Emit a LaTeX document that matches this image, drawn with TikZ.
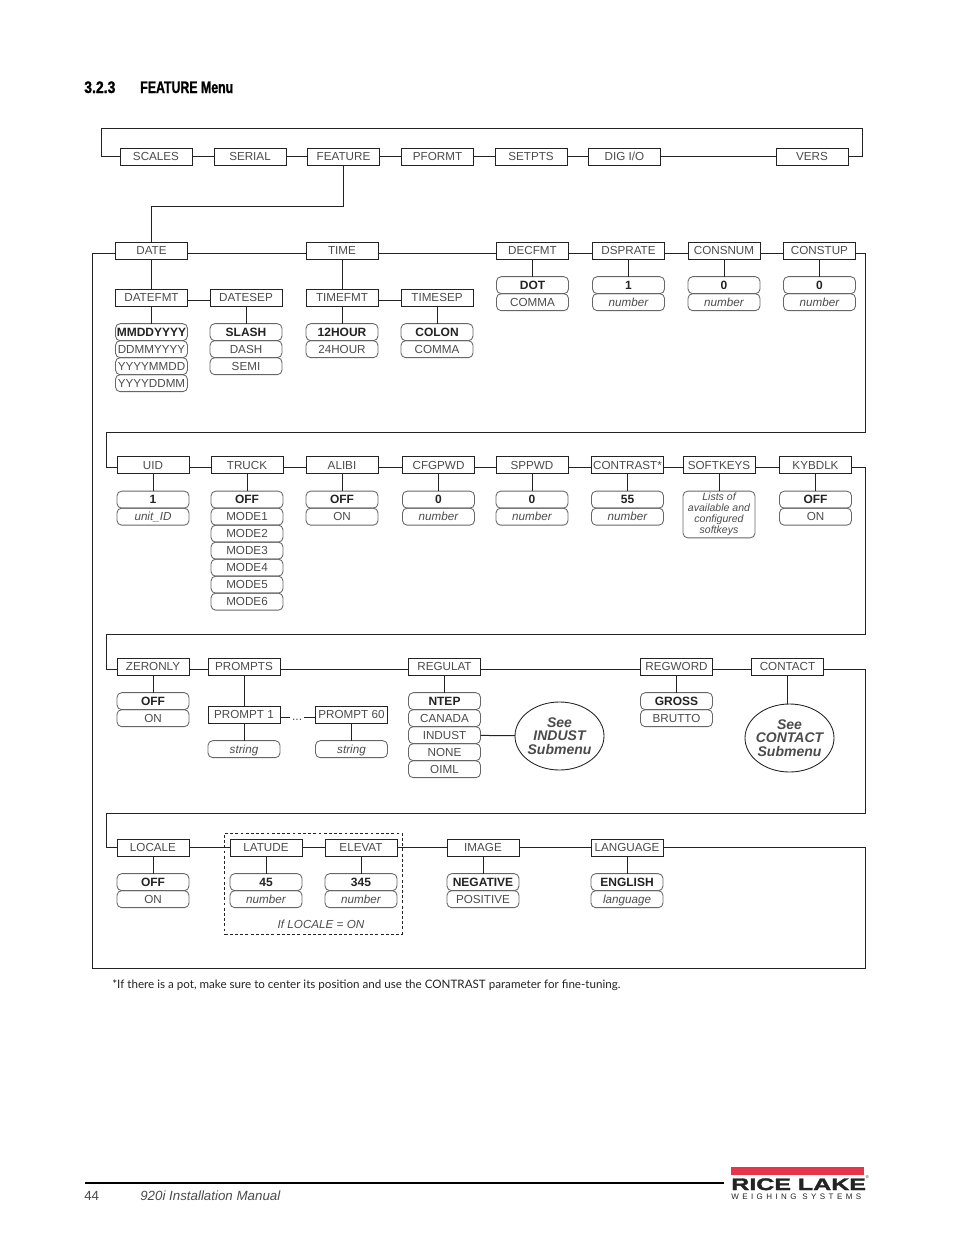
\documentclass[tikz,border=0pt]{standalone}
\usepackage{fontspec}
\setmainfont{Liberation Sans}
\newfontfamily\notefont{Lato}
\newfontfamily\headfont[FakeStretch=0.74,BoldFeatures={FakeBold=1.2}]{Liberation Sans}
\newfontfamily\headnumfont[FakeStretch=0.84,BoldFeatures={FakeBold=1.2}]{Liberation Sans}
\newfontfamily\logofont[FakeStretch=1.5,BoldFeatures={FakeBold=2}]{Liberation Sans}
\newfontfamily\logosubfont[LetterSpace=43]{Liberation Sans}
\definecolor{lakered}{RGB}{230, 52, 74}
\definecolor{ink}{RGB}{35, 35, 35}
\definecolor{label}{RGB}{75, 75, 75}
\usetikzlibrary{positioning}
\usetikzlibrary{shapes.geometric}
\tikzset{
  menubox/.style={
    draw=ink, line width=0.65pt, outer sep=0, inner sep=0,
    minimum width=54pt, minimum height=12.75pt,
    text height=6.4pt, text depth=0pt,
    font=\fontsize{8.75}{9}\selectfont, text=label
  },
  optbox/.style={menubox, draw=black!60, rounded corners=3.5pt},
  defbox/.style={optbox, font=\fontsize{9}{9}\selectfont\bfseries, text=ink},
  varbox/.style={optbox, font=\fontsize{8.75}{9}\selectfont\itshape},
  noteopt/.style={optbox, minimum height=35pt, text height=, text depth=, align=center,
    font=\fontsize{7.9}{8.25}\selectfont\itshape},
  submenu/.style={
    ellipse, draw=ink, line width=0.65pt, outer sep=0, inner sep=-6pt,
    minimum width=66.75pt, minimum height=51pt, align=center, text=label,
    font=\fontsize{10.5}{10.1}\selectfont\bfseries\itshape
  },
  link/.style={draw=ink, line width=0.75pt},
  rowdrop/.style={yshift=-2.6pt},
  rowdroptwo/.style={yshift=-1.5pt}
}

\begin{document}
\begin{tikzpicture}[x=0.75pt, y=-0.75pt, node distance=13.25pt]
  \useasboundingbox (0,0) rectangle (954,1235);

  \node (secnum) [anchor=base west, inner sep=0, font=\headnumfont\fontsize{12.5}{12.5}\selectfont\bfseries] at (84,93) {3.2.3};
  \node (sectitle) [anchor=base west, inner sep=0, font=\headfont\fontsize{12.5}{12.5}\selectfont\bfseries] at (140,93) {FEATURE Menu};

  % top row
  \node [menubox] (scales) at (156,156.5) {SCALES};
  \node [menubox] (serial) at (250,156.5) {SERIAL};
  \node [menubox] (feature) at (343.5,156.5) {FEATURE};
  \node [menubox] (pformt) at (437.5,156.5) {PFORMT};
  \node [menubox] (setpts) at (531,156.5) {SETPTS};
  \node [menubox] (digio) at (624.5,156.5) {DIG I/O};
  \node [menubox] (vers) at (812,156.5) {VERS};
  \coordinate (topleft) at (101,128);
  \coordinate (topright) at (862,128);
  \coordinate (turn) at (343.5,206);
  \draw [link] (scales) -- (serial);
  \draw [link] (serial) -- (feature);
  \draw [link] (feature) -- (pformt);
  \draw [link] (pformt) -- (setpts);
  \draw [link] (setpts) -- (digio);
  \draw [link] (digio) -- (vers);
  \draw [link] (scales.west) -| (topleft) -- (topright) |- (vers.east);

  % first block
  \node [menubox] (date) at (151.5,250.5) {DATE};
  \node [menubox] (time) at (342,250.5) {TIME};
  \node [menubox] (decfmt) at (532.5,250.5) {DECFMT};
  \node [menubox] (dsprate) at (628.5,250.5) {DSPRATE};
  \node [menubox] (consnum) at (724,250.5) {CONSNUM};
  \node [menubox] (constup) at (819.5,250.5) {CONSTUP};
  \node [menubox] (datefmt) at (151.5,297.5) {DATEFMT};
  \node [menubox] (datesep) at (246,297.5) {DATESEP};
  \node [menubox] (timefmt) at (342,297.5) {TIMEFMT};
  \node [menubox] (timesep) at (437,297.5) {TIMESEP};
  \node [defbox, below=of datefmt] (mmdd) {MMDDYYYY};
  \node [optbox, below=0pt of mmdd] (ddmm) {DDMMYYYY};
  \node [optbox, below=0pt of ddmm] (yymd) {YYYYMMDD};
  \node [optbox, below=0pt of yymd] (yydm) {YYYYDDMM};
  \node [defbox, below=of datesep] (slash) {SLASH};
  \node [optbox, below=0pt of slash] (dash) {DASH};
  \node [optbox, below=0pt of dash] (semi) {SEMI};
  \node [defbox, below=of timefmt] (hourtw) {12HOUR};
  \node [optbox, below=0pt of hourtw] (hourtf) {24HOUR};
  \node [defbox, below=of timesep] (colon) {COLON};
  \node [optbox, below=0pt of colon] (comma) {COMMA};
  \node [defbox, below=of decfmt] (dot) {DOT};
  \node [optbox, below=0pt of dot] (deccomma) {COMMA};
  \node [defbox, below=of dsprate] (rateone) {1};
  \node [varbox, below=0pt of rateone] (ratenum) {number};
  \node [defbox, below=of consnum] (numzero) {0};
  \node [varbox, below=0pt of numzero] (numnum) {number};
  \node [defbox, below=of constup] (upzero) {0};
  \node [varbox, below=0pt of upzero] (upnum) {number};
  \coordinate (framecorner) at (92,968);
  \coordinate (framecornerb) at (865.5,968);
  \coordinate (wrapa) at (865.5,432.5);
  \coordinate (wrapb) at (106,432.5);
  \draw [link] (feature.south) |- (turn) -| (date.north);
  \draw [link] ([rowdrop]date.east) -- ([rowdrop]time.west);
  \draw [link] ([rowdrop]time.east) -- ([rowdrop]decfmt.west);
  \draw [link] ([rowdrop]decfmt.east) -- ([rowdrop]dsprate.west);
  \draw [link] ([rowdrop]dsprate.east) -- ([rowdrop]consnum.west);
  \draw [link] ([rowdrop]consnum.east) -- ([rowdrop]constup.west);
  \draw [link] ([rowdrop]datefmt.east) -- ([rowdrop]datesep.west);
  \draw [link] ([rowdrop]timefmt.east) -- ([rowdrop]timesep.west);
  \draw [link] (date) -- (datefmt);
  \draw [link] (time) -- (timefmt);
  \draw [link] (datefmt) -- (mmdd);
  \draw [link] (datesep) -- (slash);
  \draw [link] (timefmt) -- (hourtw);
  \draw [link] (timesep) -- (colon);
  \draw [link] (decfmt) -- (dot);
  \draw [link] (dsprate) -- (rateone);
  \draw [link] (consnum) -- (numzero);
  \draw [link] (constup) -- (upzero);

  % second block
  \node [menubox] (uid) at (153,465) {UID};
  \node [menubox] (truck) at (247,465) {TRUCK};
  \node [menubox] (alibi) at (342,465) {ALIBI};
  \node [menubox] (cfgpwd) at (438.5,465) {CFGPWD};
  \node [menubox] (sppwd) at (532,465) {SPPWD};
  \node [menubox] (contrast) at (627.5,465) {CONTRAST*};
  \node [menubox] (softkeys) at (719,465) {SOFTKEYS};
  \node [menubox] (kybdlk) at (815.5,465) {KYBDLK};
  \node [defbox, below=of uid] (uidone) {1};
  \node [varbox, below=0pt of uidone] (uidvar) {unit\_ID};
  \node [defbox, below=of truck] (truckoff) {OFF};
  \node [optbox, below=0pt of truckoff] (modea) {MODE1};
  \node [optbox, below=0pt of modea] (modeb) {MODE2};
  \node [optbox, below=0pt of modeb] (modec) {MODE3};
  \node [optbox, below=0pt of modec] (moded) {MODE4};
  \node [optbox, below=0pt of moded] (modee) {MODE5};
  \node [optbox, below=0pt of modee] (modef) {MODE6};
  \node [defbox, below=of alibi] (alibioff) {OFF};
  \node [optbox, below=0pt of alibioff] (alibion) {ON};
  \node [defbox, below=of cfgpwd] (cfgzero) {0};
  \node [varbox, below=0pt of cfgzero] (cfgnum) {number};
  \node [defbox, below=of sppwd] (spzero) {0};
  \node [varbox, below=0pt of spzero] (spnum) {number};
  \node [defbox, below=of contrast] (confive) {55};
  \node [varbox, below=0pt of confive] (connum) {number};
  \node [noteopt, below=of softkeys] (softnote) {Lists of\\available and\\configured\\softkeys};
  \node [defbox, below=of kybdlk] (kyboff) {OFF};
  \node [optbox, below=0pt of kyboff] (kybon) {ON};
  \coordinate (wrapc) at (865.5,634.5);
  \coordinate (wrapd) at (106,634.5);
  \draw [link] ([rowdrop]constup.east) -| (wrapa) -- (wrapb) |- ([rowdroptwo]uid.west);
  \draw [link] ([rowdroptwo]uid.east) -- ([rowdroptwo]truck.west);
  \draw [link] ([rowdroptwo]truck.east) -- ([rowdroptwo]alibi.west);
  \draw [link] ([rowdroptwo]alibi.east) -- ([rowdroptwo]cfgpwd.west);
  \draw [link] ([rowdroptwo]cfgpwd.east) -- ([rowdroptwo]sppwd.west);
  \draw [link] ([rowdroptwo]sppwd.east) -- ([rowdroptwo]contrast.west);
  \draw [link] ([rowdroptwo]contrast.east) -- ([rowdroptwo]softkeys.west);
  \draw [link] ([rowdroptwo]softkeys.east) -- ([rowdroptwo]kybdlk.west);
  \draw [link] (uid) -- (uidone);
  \draw [link] (truck) -- (truckoff);
  \draw [link] (alibi) -- (alibioff);
  \draw [link] (cfgpwd) -- (cfgzero);
  \draw [link] (sppwd) -- (spzero);
  \draw [link] (contrast) -- (confive);
  \draw [link] (softkeys) -- (softnote);
  \draw [link] (kybdlk) -- (kyboff);

  % third block
  \node [menubox] (zeronly) at (153,666.5) {ZERONLY};
  \node [menubox] (prompts) at (244,666.5) {PROMPTS};
  \node [menubox] (regulat) at (444.5,666.5) {REGULAT};
  \node [menubox] (regword) at (676.5,666.5) {REGWORD};
  \node [menubox] (contact) at (787.5,666.5) {CONTACT};
  \node [menubox] (prompta) at (244,714.5) {PROMPT 1};
  \node [menubox] (promptb) at (351.5,714.5) {PROMPT 60};
  \node [varbox, below=of prompta] (stringa) {string};
  \node [varbox, below=of promptb] (stringb) {string};
  \node [defbox, below=of zeronly] (zerooff) {OFF};
  \node [optbox, below=0pt of zerooff] (zeroon) {ON};
  \node [defbox, below=of regulat] (ntep) {NTEP};
  \node [optbox, below=0pt of ntep] (canada) {CANADA};
  \node [optbox, below=0pt of canada] (indust) {INDUST};
  \node [optbox, below=0pt of indust] (none) {NONE};
  \node [optbox, below=0pt of none] (oiml) {OIML};
  \node [defbox, below=of regword] (gross) {GROSS};
  \node [optbox, below=0pt of gross] (brutto) {BRUTTO};
  \node [submenu] (industsub) at (559.5,736) {See\\INDUST\\Submenu};
  \node [submenu, below=21.75pt of contact, xshift=1.5pt] (contactsub) {See\\CONTACT\\Submenu};
  \coordinate (wrape) at (865.5,813.5);
  \coordinate (wrapf) at (106,813.5);
  \draw [link] ([rowdroptwo]kybdlk.east) -| (wrapc) -- (wrapd) |- ([rowdrop]zeronly.west);
  \draw [link] ([rowdrop]zeronly.east) -- ([rowdrop]prompts.west);
  \draw [link] ([rowdrop]prompts.east) -- ([rowdrop]regulat.west);
  \draw [link] ([rowdrop]regulat.east) -- ([rowdrop]regword.west);
  \draw [link] ([rowdrop]regword.east) -- ([rowdrop]contact.west);
  \draw [link] (zeronly) -- (zerooff);
  \draw [link] (prompts) -- (prompta);
  \draw [link] ([rowdrop]prompta.east) -- node [fill=white, inner sep=1.5pt, text=label, text height=4pt, text depth=0pt, xshift=-0.5pt, font=\fontsize{9}{9}\selectfont] {...} ([rowdrop]promptb.west);
  \draw [link] (prompta) -- (stringa);
  \draw [link] (promptb) -- (stringb);
  \draw [link] (regulat) -- (ntep);
  \draw [link] (indust) -- (industsub);
  \draw [link] (regword) -- (gross);
  \draw [link] (contact.south) -- (contact.south |- contactsub.north);

  % last block
  \node [menubox] (locale) at (153,847.5) {LOCALE};
  \node [menubox] (latude) at (266,847.5) {LATUDE};
  \node [menubox] (elevat) at (361,847.5) {ELEVAT};
  \node [menubox] (image) at (483,847.5) {IMAGE};
  \node [menubox] (language) at (627,847.5) {LANGUAGE};
  \node [defbox, below=of locale] (localeoff) {OFF};
  \node [optbox, below=0pt of localeoff] (localeon) {ON};
  \node [defbox, below=of latude] (latval) {45};
  \node [varbox, below=0pt of latval] (latnum) {number};
  \node [defbox, below=of elevat] (elval) {345};
  \node [varbox, below=0pt of elval] (elnum) {number};
  \node [defbox, below=of image] (negative) {NEGATIVE};
  \node [optbox, below=0pt of negative] (positive) {POSITIVE};
  \node [defbox, below=of language] (english) {ENGLISH};
  \node [varbox, below=0pt of english] (langvar) {language};
  \node (iflocale) [text=label, inner sep=0, font=\fontsize{8.75}{9}\selectfont\itshape] at (321,924.5) {If LOCALE = ON};
  \node (latgroup) [draw=ink, dash pattern=on 2.2pt off 1.7pt, line width=0.6pt, inner sep=0, minimum width=133pt, minimum height=75.75pt] at (313.25,883.5) {};
  \draw [link] ([rowdrop]contact.east) -| (wrape) -- (wrapf) |- (locale.west);
  \draw [link] (locale) -- (latude);
  \draw [link] (latude) -- (elevat);
  \draw [link] (elevat) -- (image);
  \draw [link] (image) -- (language);
  \draw [link] (language.east) -| (framecornerb) -- (framecorner) |- ([rowdrop]date.west);
  \draw [link] (locale) -- (localeoff);
  \draw [link] (latude) -- (latval);
  \draw [link] (elevat) -- (elval);
  \draw [link] (image) -- (negative);
  \draw [link] (language) -- (english);

  \node (footnote) [anchor=base west, inner sep=0, text=ink, font=\notefont\fontsize{8.72}{8.7}\selectfont] at (112,988) {*If there is a pot, make sure to center its position and use the CONTRAST parameter for fine-tuning.};

  % page foot
  \node (pagenum) [anchor=base west, inner sep=0, text=label, font=\fontsize{10}{10}\selectfont] at (84,1200) {44};
  \node (manual) [anchor=base west, inner sep=0, text=label, font=\fontsize{10}{10}\selectfont\itshape] at (140,1200) {920i Installation Manual};
  \coordinate (footleft) at (85,1182.5);
  \coordinate (footright) at (724,1182.5);
  \draw [black, line width=1.5pt] (footleft) -- (footright);
  \fill [lakered] (731,1167) rectangle (864,1175);
  \node (logoname) [anchor=base west, inner sep=0, text=ink, font=\logofont\fontsize{12.5}{12.5}\selectfont\bfseries] at (731,1190) {RICE LAKE};
  \node (logomark) [anchor=base west, inner sep=0, text=ink, font=\fontsize{3}{3}\selectfont] at (865.5,1178.5) {®};
  \node (logosub) [anchor=base west, inner sep=0, text=ink, font=\logosubfont\fontsize{6}{6}\selectfont] at (731,1199) {WEIGHING SYSTEMS};
\end{tikzpicture}
\end{document}
